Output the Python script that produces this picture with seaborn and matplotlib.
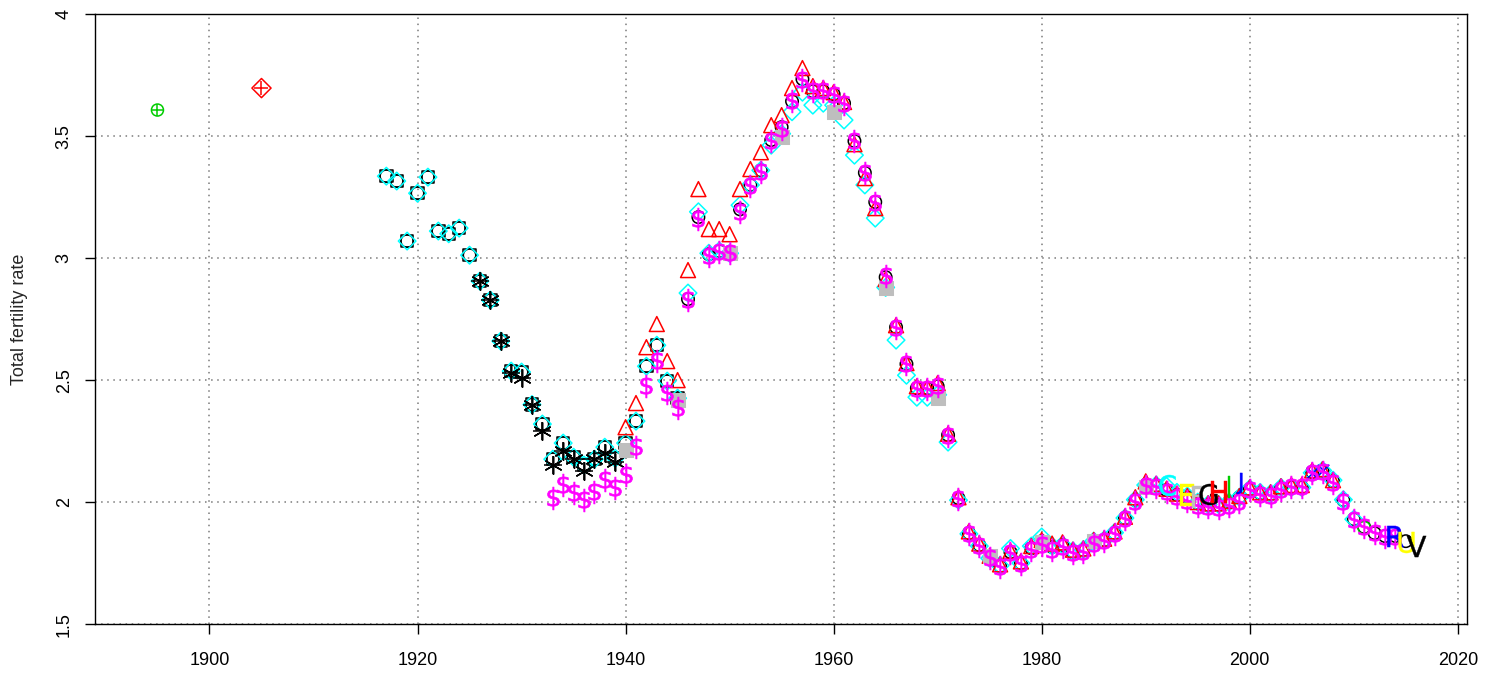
import matplotlib
matplotlib.use("Agg")
import matplotlib.pyplot as plt
import seaborn as sns
import pandas as pd
import numpy as np

# ---------------- data ----------------
circ_years = list(range(1917, 2016))
circ_vals = [3.336, 3.316, 3.07, 3.266, 3.332, 3.111, 3.10, 3.123, 3.012, 2.906,
             2.828, 2.66, 2.537, 2.533, 2.40, 2.32, 2.176, 2.242, 2.184, 2.152,
             2.176, 2.225, 2.18, 2.242, 2.332, 2.557, 2.643, 2.496, 2.426, 2.832,
             3.168, 3.016, 3.029, 3.025, 3.20, 3.30, 3.36, 3.484, 3.537, 3.643,
             3.734, 3.684, 3.684, 3.672, 3.635, 3.48, 3.35, 3.23, 2.922, 2.717,
             2.566, 2.467, 2.467, 2.475, 2.275, 2.016, 1.873, 1.824, 1.775, 1.738,
             1.795, 1.75, 1.811, 1.84, 1.816, 1.824, 1.795, 1.803, 1.836, 1.844,
             1.873, 1.934, 2.008, 2.07, 2.066, 2.049, 2.03, 2.02, 1.996, 1.988,
             1.988, 2.00, 2.02, 2.053, 2.037, 2.033, 2.057, 2.061, 2.061, 2.123,
             2.127, 2.086, 2.008, 1.93, 1.898, 1.873, 1.861, 1.861, 1.84]

sq_years = list(range(1917, 1946))
sq_vals = circ_vals[:29]

cyan_years = list(range(1917, 2011))
cyan_vals = [3.336, 3.316, 3.07, 3.266, 3.332, 3.111, 3.10, 3.123, 3.012, 2.906,
             2.828, 2.66, 2.537, 2.533, 2.40, 2.32, 2.176, 2.242, 2.184, 2.152,
             2.176, 2.225, 2.18, 2.242, 2.332, 2.557, 2.643, 2.496, 2.426,
             2.857, 3.19, 3.02, 3.03, 3.02, 3.217, 3.30, 3.36, 3.463, 3.51,
             3.60, 3.68, 3.627, 3.635, 3.627, 3.566, 3.422, 3.30, 3.164, 2.88,
             2.664, 2.52, 2.43, 2.43, 2.44, 2.246, 2.008, 1.87, 1.82, 1.77,
             1.74, 1.81, 1.75, 1.82, 1.857, 1.82, 1.825, 1.80, 1.805, 1.84,
             1.845, 1.875, 1.935, 2.01, 2.07, 2.07, 2.065, 2.04, 2.025, 2.0,
             1.99, 1.99, 2.0, 2.02, 2.055, 2.04, 2.035, 2.06, 2.06, 2.06,
             2.12, 2.13, 2.09, 2.01, 1.93]

star_years = list(range(1926, 1940))
star_vals = [2.906, 2.828, 2.66, 2.53, 2.51, 2.398, 2.29, 2.152, 2.21, 2.176,
             2.127, 2.176, 2.2, 2.164]

tri_years = list(range(1940, 2009))
tri_vals = [2.307, 2.406, 2.635, 2.73, 2.578, 2.50, 2.951, 3.283, 3.119, 3.119,
            3.098, 3.283, 3.365, 3.434, 3.545, 3.586, 3.697, 3.779, 3.705, 3.697,
            3.68, 3.64, 3.467, 3.328, 3.205, 2.914, 2.725, 2.57, 2.475, 2.47,
            2.488, 2.28, 2.02, 1.88, 1.83, 1.78, 1.745, 1.80, 1.757, 1.82,
            1.845, 1.83, 1.835, 1.805, 1.81, 1.845, 1.85, 1.88, 1.94, 2.02,
            2.085, 2.075, 2.055, 2.035, 2.025, 2.0, 1.995, 1.995, 2.005, 2.025,
            2.06, 2.04, 2.04, 2.065, 2.07, 2.07, 2.13, 2.135, 2.09]

gray_years = [1940, 1945, 1950, 1955, 1960, 1965, 1970, 1975, 1980, 1985, 1990]
gray_vals = [2.213, 2.418, 3.02, 3.496, 3.598, 2.877, 2.426, 1.78, 1.835, 1.84, 2.06]

dollar_years = list(range(1933, 2015))
dollar_vals = [2.016, 2.07, 2.037, 2.008, 2.04, 2.09, 2.057, 2.11, 2.225, 2.475, 2.578, 2.447, 2.385,
               2.83, 3.16, 3.01, 3.025, 3.02, 3.19, 3.295, 3.355, 3.48, 3.53,
               3.645, 3.73, 3.685, 3.685, 3.67, 3.63, 3.48, 3.35, 3.225, 2.925,
               2.715, 2.565, 2.465, 2.465, 2.475, 2.27, 2.013, 1.87, 1.82, 1.772,
               1.735, 1.79, 1.748, 1.805, 1.825, 1.805, 1.815, 1.79, 1.795, 1.83,
               1.84, 1.87, 1.93, 2.0, 2.065, 2.06, 2.04, 2.02, 2.005, 1.985,
               1.98, 1.975, 1.985, 2.0, 2.05, 2.03, 2.025, 2.05, 2.06, 2.06,
               2.12, 2.125, 2.08, 2.0, 1.926, 1.898, 1.873, 1.858, 1.858]

early_green_year = [1895]
early_green_val = [3.607]
early_red_year = [1905]
early_red_val = [3.697]

blue_x_years = [2006, 2007]
blue_x_vals = [2.12, 2.13]
green_o_years = [2011]
green_o_vals = [1.895]

letters = ["C", "E", "F", "G", "H", "I", "J", "R", "U", "V"]
letter_years = [1992, 1994, 1995, 1996, 1997, 1998, 1999, 2014, 2015, 2016]
letter_vals = [2.07, 2.03, 2.02, 2.035, 2.04, 2.06, 2.08, 1.862, 1.838, 1.822]
letter_colors = ["#00FFFF", "#FFFF00", "#BEBEBE", "#000000", "#FF0000", "#00CD00",
                 "#0000FF", "#0000FF", "#FFFF00", "#000000"]

# ---------------- style ----------------
sns.set_style("ticks")
plt.rcParams['font.family'] = ['Liberation Sans', 'DejaVu Sans']

fig = plt.figure(figsize=(14.85, 6.74), dpi=100)
ax = fig.add_axes([0.064, 0.074, 0.924, 0.905])

def pts(x, y, **kw):
    df = pd.DataFrame({"year": x, "tfr": y})
    sns.scatterplot(data=df, x="year", y="tfr", ax=ax, legend=False, **kw)

hollow = dict(facecolors="none", linewidths=1.1)

pts(sq_years, sq_vals, marker="s", s=80, edgecolor="black", **hollow)
pts(circ_years, circ_vals, marker="o", s=80, edgecolor="black", **hollow)
pts(cyan_years, cyan_vals, marker="D", s=80, edgecolor="#00FFFF", **hollow)
pts(star_years, star_vals, marker=(6, 2, 0), s=160, color="black", linewidth=1.1)
pts(star_years, star_vals, marker="+", s=160, color="black", linewidth=1.1)
pts(tri_years, tri_vals, marker="^", s=115, edgecolor="#FF0000", **hollow)
pts(gray_years, gray_vals, marker="s", s=90, color="#BEBEBE", edgecolor="#BEBEBE")
pts(blue_x_years, blue_x_vals, marker="x", s=70, color="#0000FF", linewidth=1.1)
pts(green_o_years, green_o_vals, marker="o", s=80, edgecolor="#00CD00", **hollow)
pts(dollar_years, dollar_vals, marker=r"$\mathsf{\$}$", s=270, color="#FF00FF",
    edgecolor="#FF00FF", linewidth=0.5)

pts(early_green_year, early_green_val, marker="o", s=75, edgecolor="#00CD00", **hollow)
pts(early_green_year, early_green_val, marker="+", s=75, color="#00CD00", linewidth=1.1)
pts(early_red_year, early_red_val, marker="D", s=95, edgecolor="#FF0000", **hollow)
pts(early_red_year, early_red_val, marker="+", s=110, color="#FF0000", linewidth=1.1)

for lab, yr, v, c in zip(letters, letter_years, letter_vals, letter_colors):
    pts([yr], [v], marker=r"$\mathsf{%s}$" % lab, s=230, color=c, edgecolor=c, linewidth=0.3)

# ---------------- axes ----------------
ax.set_xlim(1889.0, 2020.9)
ax.set_ylim(1.5, 4.0)
xt = [1900, 1920, 1940, 1960, 1980, 2000, 2020]
yt = [1.5, 2.0, 2.5, 3.0, 3.5, 4.0]
ax.set_xticks(xt)
ax.set_xticklabels([str(v) for v in xt], fontsize=13)
ax.set_yticks(yt)
ax.set_yticklabels(["1.5", "2", "2.5", "3", "3.5", "4"], rotation=90, va="center", fontsize=13)
ax.grid(True, color="#7a7a7a", linestyle=(0, (1, 3)), linewidth=1.1)
ax.set_axisbelow(True)
for sp in ax.spines.values():
    sp.set_visible(True)
    sp.set_color("black")
    sp.set_linewidth(1.0)
ax.tick_params(axis="both", direction="out", length=7, width=1, color="black",
               labelcolor="black")
ax.tick_params(axis="x", pad=13)
ax.tick_params(axis="y", pad=9)
ax.set_xlabel("")
ax.set_ylabel("Total fertility rate", fontsize=13, labelpad=20)

fig.savefig("out.png", dpi=100)
